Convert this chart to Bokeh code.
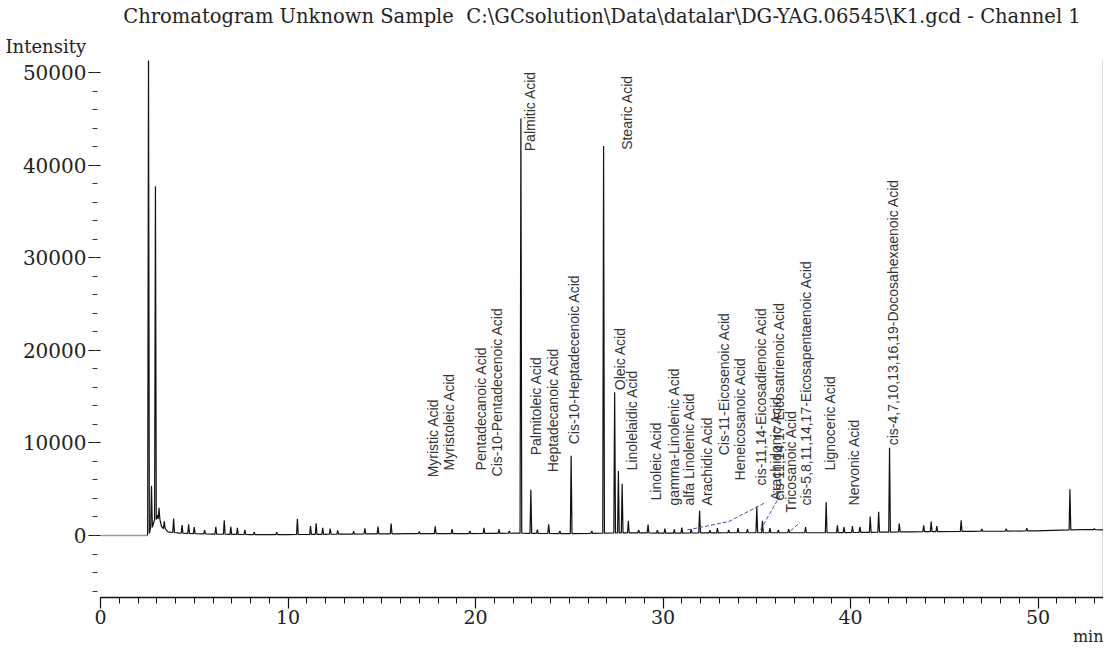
import numpy as np
from bokeh.plotting import figure
from bokeh.models import LinearAxis, FixedTicker, Range1d, ColumnDataSource, Title
from bokeh.core.properties import value
from bokeh.embed import file_html
from bokeh.resources import INLINE

# ---------------- DATA ----------------
TITLE = "Chromatogram Unknown Sample \u00a0C:\\GCsolution\\Data\\datalar\\DG-YAG.06545\\K1.gcd - Channel 1"
Y_LABEL = "Intensity"
X_LABEL = "min"

x_ticks = [0, 10, 20, 30, 40, 50]
y_ticks = [0, 10000, 20000, 30000, 40000, 50000]

solvent_delay_end = 2.5  # min (trace drawn grey before this)

baseline_time = [0, 2.5, 3.05, 3.25, 3.6, 4.2, 6.0, 8.0, 10.0, 13.0, 16.5, 19.3, 22.2,
                 24.8, 28.45, 30.35, 33.2, 36.4, 39.0, 43.3, 46.5, 49.9, 52.5, 53.9]
baseline_level = [0, 0, 2200, 1000, 400, 250, 150, 100, 100, 150, 200, 200, 250,
                  200, 300, 250, 300, 300, 300, 400, 450, 500, 650, 600]

peak_time = [2.56, 2.72, 2.93, 3.12, 3.4, 3.9, 4.35, 4.7, 5.0, 5.55, 6.15, 6.6, 6.95,
             7.3, 7.7, 8.2, 9.4, 10.5, 11.2, 11.5, 11.85, 12.25, 12.65, 13.5, 14.1,
             14.8, 15.5, 17.0, 17.85, 18.75, 19.7, 20.45, 21.25, 21.8, 22.42, 22.95,
             23.3, 23.9, 24.5, 25.1, 26.2, 26.83, 27.42, 27.62, 27.82, 28.15, 28.7,
             29.2, 29.7, 30.1, 30.6, 31.0, 31.5, 31.95, 32.5, 32.9, 33.5, 34.0, 34.5,
             35.0, 35.3, 35.7, 36.15, 36.7, 37.6, 38.7, 39.3, 39.65, 40.1, 40.5,
             41.05, 41.5, 42.08, 42.6, 43.9, 44.3, 44.6, 45.9, 47.0, 48.3, 49.4,
             51.7, 53.0]
peak_height = [52000, 4500, 36000, 1200, 800, 1500, 900, 1000, 700, 400, 800, 1500, 800,
               700, 500, 300, 250, 1700, 900, 1200, 700, 600, 400, 300, 600,
               800, 1100, 250, 800, 500, 300, 600, 450, 250, 44800, 4700,
               400, 1000, 300, 8400, 250, 41800, 15200, 6700, 5300, 1300, 300,
               900, 300, 500, 400, 600, 400, 2400, 300, 500, 300, 500, 400,
               2800, 1300, 500, 300, 400, 600, 3300, 800, 600, 700, 600,
               1700, 2200, 9100, 900, 700, 1100, 600, 1200, 250, 250, 300,
               4400, 100]

compound_names = [
    "Myristic Acid", "Myristoleic Acid", "Pentadecanoic Acid", "Cis-10-Pentadecenoic Acid",
    "Palmitic Acid", "Palmitoleic Acid", "Heptadecanoic Acid", "Cis-10-Heptadecenoic Acid",
    "Stearic Acid", "Oleic Acid", "Linolelaidic Acid", "Linoleic Acid",
    "gamma-Linolenic Acid", "alfa Linolenic Acid", "Arachidic Acid", "Cis-11-Eicosenoic Acid",
    "Heneicosanoic Acid", "cis-11,14-Eicosadienoic Acid", "Arachidonic Acid",
    "cis-11,14,17-Eicosatrienoic Acid", "Tricosanoic Acid",
    "cis-5,8,11,14,17-Eicosapentaenoic Acid", "Lignoceric Acid", "Nervonic Acid",
    "cis-4,7,10,13,16,19-Docosahexaenoic Acid",
]

# manual integration marks (blue pen), min / intensity
mark_time = [[31.3, 33.5, 35.5], [35.2, 35.7, 36.3], [36.8, 37.3]]
mark_level = [[600, 1500, 3600], [600, 2400, 4500], [500, 1400]]

# ---------------- LAYOUT ----------------
label_time = [17.71, 18.61, 20.27, 21.17, 22.9, 23.2, 24.11, 25.23, 28.1, 27.73, 28.37,
              29.6, 30.56, 31.41, 32.32, 33.23, 34.13, 35.2, 36.0, 36.16, 36.8, 37.65,
              38.88, 40.16, 42.29]
label_level = [6280, 7030, 7030, 6380, 41500, 8660, 6820, 9850, 41650, 15690, 7030,
               3790, 3250, 3250, 3250, 8660, 5950, 5410, 3790, 3790, 2490, 3250,
               7030, 3250, 9740]

HW = 0.045
SERIF = "DejaVu Serif"
SANS = "Liberation Sans"

# build trace from baseline + peak apexes
peak_lo = [t - HW for t in peak_time]
peak_hi = [t + HW for t in peak_time]
pts = []
for t, v in zip(baseline_time, baseline_level):
    if not any(lo <= t <= hi for lo, hi in zip(peak_lo, peak_hi)):
        pts.append((t, v))
for t, h in zip(peak_time, peak_height):
    b = float(np.interp(t, baseline_time, baseline_level))
    pts += [(t - HW, b), (t, b + h), (t + HW, b)]
pts.sort()
tx = np.array([p_[0] for p_ in pts])
ty = np.array([p_[1] for p_ in pts])
pre = tx <= solvent_delay_end
post = tx >= solvent_delay_end

p = figure(width=1103, height=645, x_range=Range1d(0, 53.49), y_range=Range1d(-6695, 51300),
           output_backend="svg", toolbar_location=None,
           min_border_left=100, min_border_right=0, min_border_top=60, min_border_bottom=48)
p.xgrid.visible = False
p.ygrid.visible = False
p.outline_line_color = None
p.background_fill_color = "white"
p.border_fill_color = "white"

# titles (first added is nearest the frame)
p.add_layout(Title(text=Y_LABEL, align="left", offset=-95, standoff=7,
                   text_font=SERIF, text_font_size="18px", text_font_style="normal",
                   text_color="#222222"), "above")
p.add_layout(Title(text=TITLE, align="center", standoff=5,
                   text_font=SERIF, text_font_size="19.5px", text_font_style="normal",
                   text_color="#222222"), "above")

# axes
xa = p.xaxis[0]
xa.ticker = FixedTicker(ticks=x_ticks, minor_ticks=list(range(0, 54)))
xa.axis_line_color = "#111111"
xa.axis_line_width = 1.3
xa.major_tick_out = 11
xa.major_tick_in = 0
xa.minor_tick_out = 6
xa.minor_tick_in = 0
xa.major_tick_line_color = "#111111"
xa.minor_tick_line_color = "#111111"
xa.major_tick_line_width = 1.2
xa.major_label_standoff = 1
xa.major_label_text_font = SERIF
xa.major_label_text_font_size = "19px"
xa.major_label_text_color = "#222222"

p.add_layout(Title(text=X_LABEL, align="right", standoff=-4,
                   text_font=SERIF, text_font_size="16px", text_font_style="normal",
                   text_color="#222222"), "below")

ya = p.yaxis[0]
ya.ticker = FixedTicker(ticks=y_ticks, minor_ticks=list(range(-6000, 51001, 2000)))
ya.axis_line_color = None
ya.major_tick_out = 12
ya.major_tick_in = 0
ya.minor_tick_out = 8
ya.minor_tick_in = -3
ya.major_tick_line_color = "#111111"
ya.minor_tick_line_color = "#333333"
ya.major_tick_line_width = 1.2
ya.major_label_standoff = 2
ya.major_label_text_font = SERIF
ya.major_label_text_font_size = "20px"
ya.major_label_text_color = "#222222"
ya.major_label_text_baseline = "middle"

ra = LinearAxis(ticker=FixedTicker(ticks=[]), axis_line_color="#111111", axis_line_width=1.3,
                major_tick_line_color=None, minor_tick_line_color=None,
                major_label_text_font_size="0px", major_tick_out=0, major_label_standoff=0)
p.add_layout(ra, "right")

# trace
p.line(tx[pre], ty[pre], line_color="#9a9a9a", line_width=1.6)
p.line(tx[post], ty[post], line_color="#111111", line_width=1.2)

# manual marks
for mt, ml in zip(mark_time, mark_level):
    p.line(mt, ml, line_color="#4050b0", line_width=1, line_dash="4 2")

# peak labels
src = ColumnDataSource(dict(x=label_time, y=label_level, text=compound_names))
p.text(x="x", y="y", text="text", source=src, angle=np.pi / 2,
       text_align="left", text_baseline="middle",
       text_font=value(SANS), text_font_size="14px", text_color="#333333")

open("out.html", "w").write(file_html(p, INLINE))
